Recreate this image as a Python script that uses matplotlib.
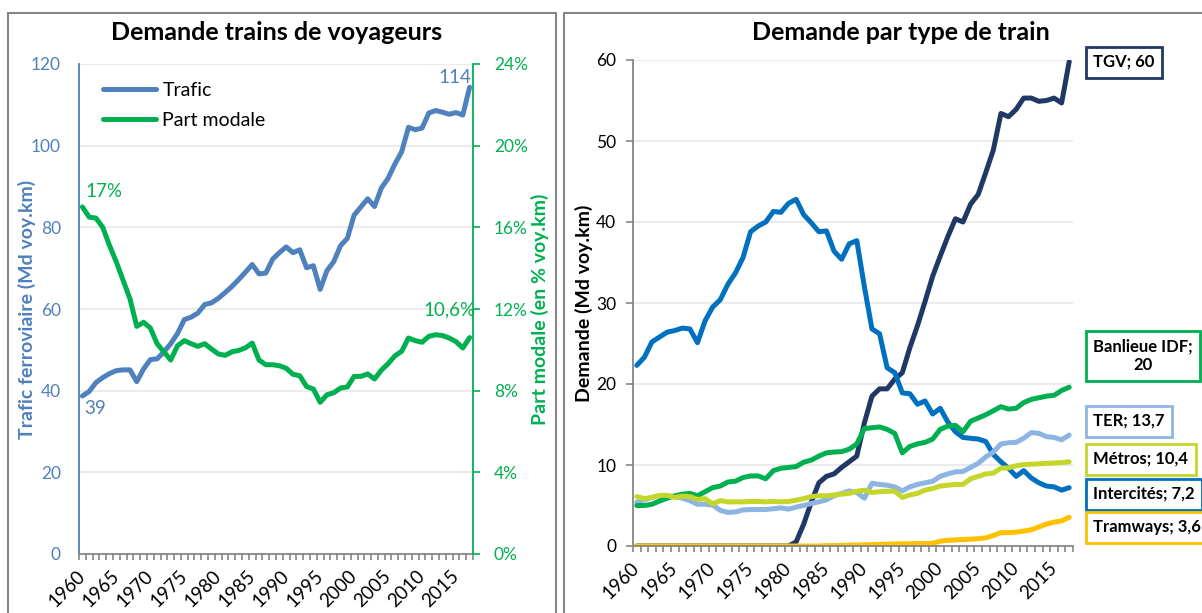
import matplotlib
matplotlib.use("Agg")
import matplotlib.pyplot as plt
import matplotlib.transforms as mtransforms
import numpy as np
from matplotlib.patches import Rectangle
from matplotlib.lines import Line2D

plt.rcParams['font.family'] = ['Lato', 'DejaVu Sans']

# ---------------- data ----------------
years = list(range(1960, 2018))

trafic = [38.7, 39.8, 42.0, 43.2, 44.2, 44.9, 45.1, 45.1, 42.2, 45.3,
          47.6, 47.8, 49.5, 51.5, 54.0, 57.4, 58.0, 59.0, 61.1, 61.5,
          62.6, 64.0, 65.5, 67.2, 69.0, 70.9, 68.6, 68.8, 72.2, 73.8,
          75.2, 73.8, 74.5, 70.1, 70.6, 64.8, 69.4, 71.6, 75.5, 77.3,
          83.0, 85.0, 87.0, 85.1, 89.6, 92.0, 95.5, 98.5, 104.5, 103.9,
          104.3, 108.0, 108.6, 108.2, 107.7, 108.1, 107.5, 114.3]

part_modale = [17.0, 16.5, 16.45, 16.0, 15.1, 14.3, 13.4, 12.5, 11.15, 11.35,
               11.07, 10.3, 9.9, 9.5, 10.2, 10.45, 10.3, 10.17, 10.3, 10.04,
               9.8, 9.73, 9.9, 9.97, 10.1, 10.33, 9.5, 9.27, 9.27, 9.22,
               9.1, 8.8, 8.73, 8.2, 8.08, 7.43, 7.8, 7.9, 8.13, 8.18,
               8.7, 8.7, 8.82, 8.57, 9.0, 9.32, 9.7, 9.93, 10.58, 10.45,
               10.37, 10.66, 10.74, 10.7, 10.58, 10.4, 10.09, 10.6]

tgv = [0.0, 0.0, 0.0, 0.0, 0.0, 0.0, 0.0, 0.0, 0.0, 0.0,
       0.0, 0.0, 0.0, 0.0, 0.0, 0.0, 0.0, 0.0, 0.0, 0.0,
       0.0, 0.5, 2.7, 5.4, 7.8, 8.6, 8.9, 9.7, 10.4, 11.1,
       15.2, 18.5, 19.4, 19.4, 20.6, 21.4, 24.5, 27.2, 30.2, 33.3,
       35.8, 38.2, 40.4, 40.0, 42.2, 43.4, 46.1, 48.9, 53.4, 53.0,
       53.9, 55.3, 55.3, 54.9, 55.0, 55.3, 54.7, 59.8]

intercites = [22.3, 23.3, 25.2, 25.8, 26.4, 26.6, 26.9, 26.8, 25.1, 27.8,
              29.5, 30.4, 32.3, 33.7, 35.6, 38.8, 39.5, 40.0, 41.3, 41.2,
              42.3, 42.8, 40.9, 39.9, 38.8, 38.9, 36.4, 35.4, 37.3, 37.7,
              32.0, 26.8, 26.2, 22.0, 21.4, 18.9, 18.8, 17.5, 17.9, 16.3,
              17.0, 15.3, 14.1, 13.4, 13.3, 13.2, 12.9, 11.3, 10.4, 9.6,
              8.6, 9.3, 8.4, 7.8, 7.4, 7.3, 6.9, 7.2]

ter = [5.4, 5.7, 6.0, 6.2, 6.2, 6.1, 5.9, 5.6, 5.15, 5.15,
       5.05, 4.4, 4.15, 4.2, 4.45, 4.5, 4.5, 4.5, 4.6, 4.7,
       4.55, 4.8, 5.0, 5.25, 5.45, 5.7, 6.2, 6.5, 6.8, 6.6,
       5.9, 7.75, 7.6, 7.5, 7.3, 6.8, 7.3, 7.6, 7.8, 8.0,
       8.6, 8.9, 9.15, 9.2, 9.7, 10.2, 11.0, 11.6, 12.6, 12.75,
       12.8, 13.3, 14.0, 13.9, 13.5, 13.4, 13.1, 13.7]

banlieue = [5.0, 5.0, 5.15, 5.55, 5.9, 6.2, 6.4, 6.5, 6.2, 6.7,
            7.2, 7.4, 7.9, 8.0, 8.45, 8.65, 8.65, 8.3, 9.3, 9.6,
            9.7, 9.8, 10.35, 10.6, 11.1, 11.5, 11.6, 11.65, 11.95, 12.6,
            14.5, 14.6, 14.7, 14.4, 13.9, 11.5, 12.3, 12.6, 12.8, 13.2,
            14.4, 14.8, 14.9, 14.1, 15.4, 15.8, 16.2, 16.7, 17.2, 16.9,
            17.0, 17.7, 18.1, 18.3, 18.5, 18.6, 19.2, 19.6]

metros = [6.1, 5.85, 6.0, 6.25, 6.25, 6.0, 6.15, 6.1, 5.75, 5.85,
          5.2, 5.6, 5.45, 5.45, 5.45, 5.5, 5.5, 5.45, 5.5, 5.45,
          5.5, 5.65, 5.85, 6.1, 6.2, 6.2, 6.3, 6.4, 6.5, 6.75,
          6.9, 6.6, 6.7, 6.75, 6.75, 6.0, 6.3, 6.5, 6.9, 7.1,
          7.4, 7.5, 7.6, 7.6, 8.3, 8.6, 8.9, 9.0, 9.6, 9.65,
          9.9, 10.05, 10.1, 10.15, 10.2, 10.25, 10.3, 10.4]

tramways = [0.0, 0.0, 0.0, 0.0, 0.0, 0.0, 0.0, 0.0, 0.0, 0.0,
            0.0, 0.0, 0.0, 0.0, 0.0, 0.0, 0.0, 0.0, 0.0, 0.0,
            0.0, 0.0, 0.0, 0.0, 0.0, 0.05, 0.05, 0.08, 0.1, 0.12,
            0.15, 0.17, 0.2, 0.22, 0.25, 0.27, 0.28, 0.3, 0.3, 0.33,
            0.6, 0.7, 0.75, 0.8, 0.85, 0.9, 1.0, 1.3, 1.65, 1.65,
            1.7, 1.85, 2.0, 2.35, 2.7, 2.95, 3.1, 3.55]

left_yticks = [0, 20, 40, 60, 80, 100, 120]
right_yticks = [0, 4, 8, 12, 16, 20, 24]
demand_yticks = [0, 10, 20, 30, 40, 50, 60]

series_names = ["TGV", "Intercités", "TER", "Banlieue IDF", "Métros", "Tramways"]
end_labels = ["TGV; 60", "Intercités; 7,2", "TER; 13,7", "Banlieue IDF;\n20",
              "Métros; 10,4", "Tramways; 3,6"]

# ---------------- style ----------------
C_BLUE = '#4F81BD'
C_GREEN = '#00B050'
C_TGV = '#1F3864'
C_INTER = '#0070C0'
C_TER = '#8EB4E3'
C_METRO = '#C5D62B'
C_TRAM = '#FFC000'
C_AXIS = '#868686'
C_GRID = '#EBEBEB'

W, H = 1202, 613
fig = plt.figure(figsize=(W / 100, H / 100), dpi=100)


def fx(px):
    return px / W


def fy(py):
    return 1 - py / H


# panel frames
fig.patches.append(Rectangle((fx(8), fy(650)), fx(556) - fx(8), fy(13) - fy(650),
                             transform=fig.transFigure, fill=False, ec=C_AXIS, lw=1.5))
fig.patches.append(Rectangle((fx(564), fy(650)), fx(1260) - fx(564), fy(13) - fy(650),
                             transform=fig.transFigure, fill=False, ec=C_AXIS, lw=1.5))

x = np.arange(len(years))
LW = 3.6
TICKFS = 12.5
XTICKFS = 13.5


def setup_xaxis(ax):
    ax.set_xlim(-0.5, len(years) - 0.5)
    ax.set_xticks(x[::5])
    ax.set_xticklabels([str(y) for y in years[::5]], rotation=45, ha='right',
                       va='center', rotation_mode='anchor', fontsize=XTICKFS, color='#000000')
    ax.set_xticks(np.arange(-0.5, len(years), 1.0), minor=True)
    ax.tick_params(axis='x', which='major', length=0, pad=14)
    ax.tick_params(axis='x', which='minor', length=4, color=C_AXIS, width=1.2, direction='out')
    ax.spines['bottom'].set_color(C_AXIS)
    ax.spines['bottom'].set_linewidth(1.3)


def fig_x_label_coords(ax, px):
    tr = mtransforms.blended_transform_factory(fig.transFigure, ax.transAxes)
    ax.yaxis.set_label_coords(fx(px), 0.5, transform=tr)
    ax.yaxis.label.set_va('center')


# ---------------- left chart ----------------
ax1 = fig.add_axes([fx(79), fy(554), fx(473) - fx(79), fy(64) - fy(554)])
ax2 = ax1.twinx()
setup_xaxis(ax1)
ax1.set_ylim(0, 120)
ax1.set_yticks(left_yticks)
ax1.tick_params(axis='y', length=0, pad=13, labelcolor=C_BLUE, labelsize=TICKFS)
ax1.yaxis.grid(True, color=C_GRID, lw=1.5)
ax1.set_axisbelow(True)
for s in ['top', 'right']:
    ax1.spines[s].set_visible(False)
ax1.spines['left'].set_color(C_BLUE)
ax1.spines['left'].set_linewidth(1.3)

ax2.set_ylim(0, 24)
ax2.set_yticks(right_yticks)
ax2.set_yticklabels([f"{v}%" for v in right_yticks])
ax2.tick_params(axis='y', length=5, width=1.2, color=C_GREEN, pad=10,
                labelcolor=C_GREEN, labelsize=TICKFS)
for s in ['top', 'left', 'bottom']:
    ax2.spines[s].set_visible(False)
ax2.spines['right'].set_color(C_GREEN)
ax2.spines['right'].set_linewidth(1.3)

ax1.plot(x, trafic, color=C_BLUE, lw=LW, solid_capstyle='round', solid_joinstyle='round')
ax2.plot(x, part_modale, color=C_GREEN, lw=LW, solid_capstyle='round', solid_joinstyle='round')

ax1.set_ylabel("Trafic ferroviaire (Md voy.km)", color=C_BLUE, fontsize=14, fontweight='bold')
fig_x_label_coords(ax1, 27)
ax2.set_ylabel("Part modale (en % voy.km)", color=C_GREEN, fontsize=14, fontweight='bold')
fig_x_label_coords(ax2, 540)

fig.text(fx(277), fy(33), "Demande trains de voyageurs", ha='center', va='center',
         fontsize=18, fontweight='bold', color='#000000')

# data labels
ax1.annotate(f"{trafic[-1]:.0f}", xy=(x[-1], trafic[-1]), xytext=(1, 1),
             textcoords='offset points', ha='right', va='bottom', color=C_BLUE, fontsize=13.5)
ax1.annotate(f"{trafic[0]:.0f}", xy=(x[0], trafic[0]), xytext=(1, -3),
             textcoords='offset points', ha='left', va='top', color=C_BLUE, fontsize=13.5)
ax2.annotate(f"{part_modale[0]:.0f}%", xy=(x[0], part_modale[0]), xytext=(2, 5),
             textcoords='offset points', ha='left', va='bottom', color=C_GREEN, fontsize=13.5)
ax2.annotate(f"{part_modale[-1]:.1f}".replace('.', ',') + "%", xy=(x[-1], part_modale[-1]),
             xytext=(4, 14), textcoords='offset points', ha='right', va='bottom',
             color=C_GREEN, fontsize=13.5)

handles = [Line2D([], [], color=C_BLUE, lw=LW, solid_capstyle='round'),
           Line2D([], [], color=C_GREEN, lw=LW, solid_capstyle='round')]
fig.legend(handles, ["Trafic", "Part modale"], loc='upper left',
           bbox_to_anchor=(fx(103), fy(82)), frameon=False, fontsize=14,
           handlelength=2.75, handletextpad=0.3, labelspacing=0.68,
           borderpad=0, borderaxespad=0)

# ---------------- right chart ----------------
ax3 = fig.add_axes([fx(633), fy(546), fx(1073) - fx(633), fy(60) - fy(546)])
setup_xaxis(ax3)
ax3.set_ylim(0, 60)
ax3.set_yticks(demand_yticks)
ax3.tick_params(axis='y', length=5, width=1.2, color=C_AXIS, pad=7, labelsize=TICKFS)
ax3.yaxis.grid(True, color=C_GRID, lw=1.5)
ax3.set_axisbelow(True)
for s in ['top', 'right']:
    ax3.spines[s].set_visible(False)
ax3.spines['left'].set_color(C_AXIS)
ax3.spines['left'].set_linewidth(1.3)

series = [tgv, intercites, ter, banlieue, metros, tramways]
colors = [C_TGV, C_INTER, C_TER, C_GREEN, C_METRO, C_TRAM]
for vals, col, name in zip(series, colors, series_names):
    ax3.plot(x, vals, color=col, lw=LW, solid_capstyle='round', solid_joinstyle='round',
             label=name)

ax3.set_ylabel("Demande (Md voy.km)", fontsize=14, fontweight='bold', color='#000000')
fig_x_label_coords(ax3, 584)
fig.text(fx(901), fy(33), "Demande par type de train", ha='center', va='center',
         fontsize=18, fontweight='bold', color='#000000')

# end-of-series label boxes (vertical centres in figure pixels)
box_y = [62, 494, 421, 356, 459, 527]
for lab, col, yy in zip(end_labels, colors, box_y):
    fig.text(fx(1093), fy(yy), lab, ha='left', va='center', fontsize=12,
             fontweight='bold', color='#000000', multialignment='center',
             bbox=dict(boxstyle='square,pad=0.45', fc='white', ec=col, lw=2))

fig.savefig("out.png", dpi=100)
